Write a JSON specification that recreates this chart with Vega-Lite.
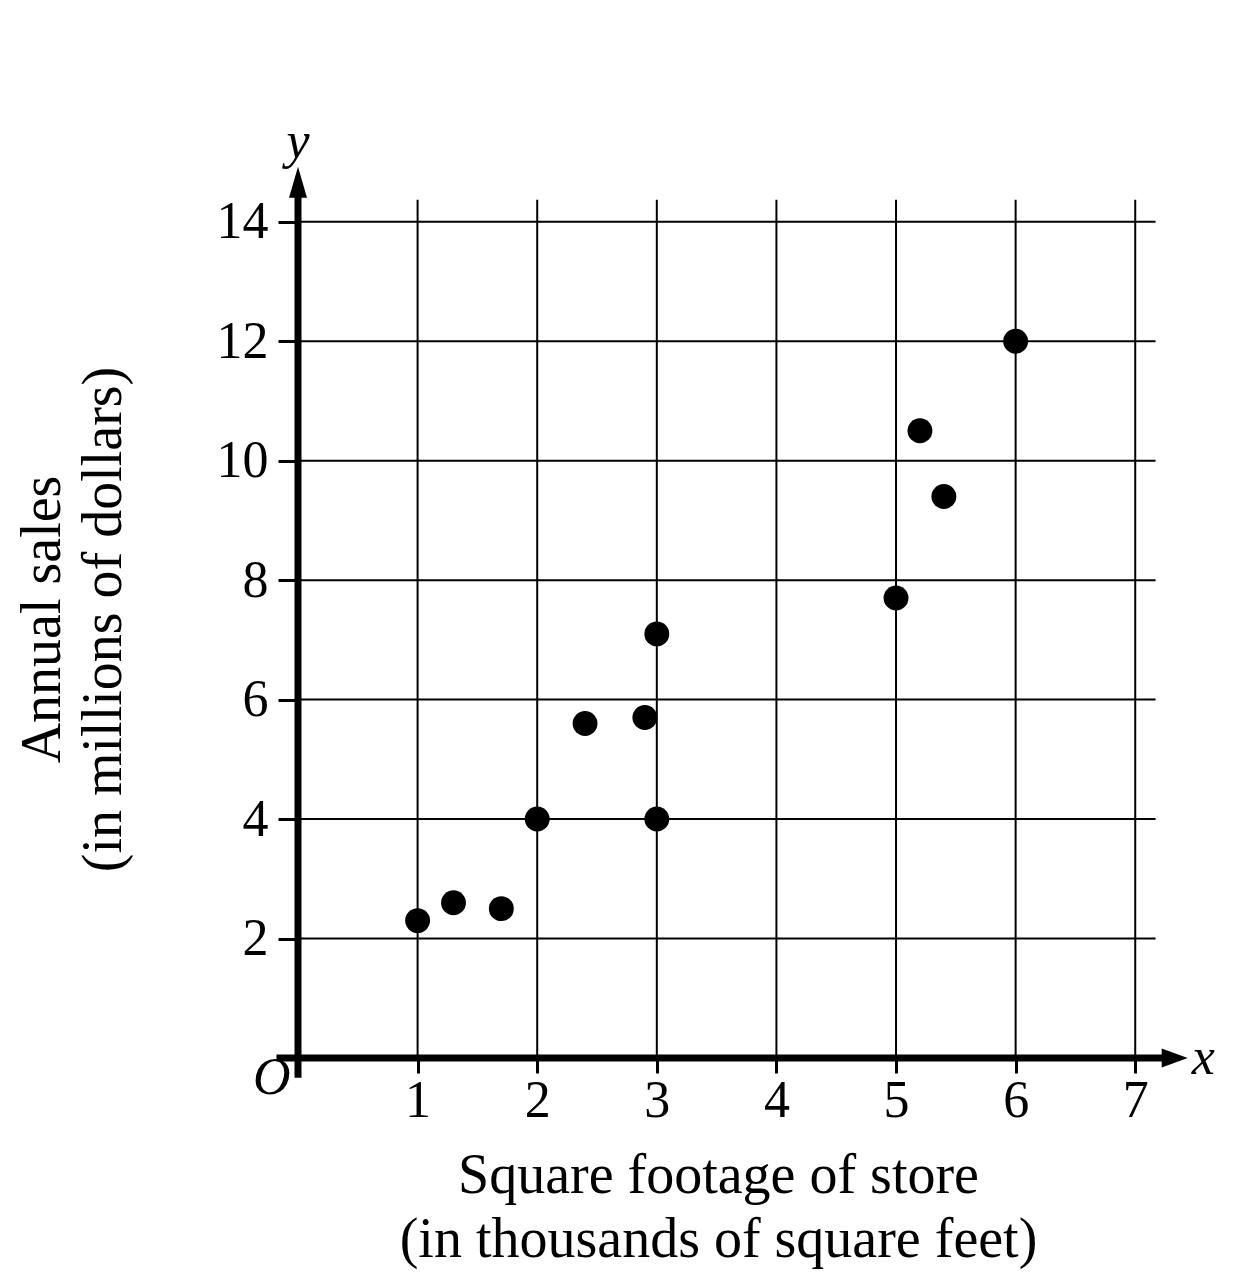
{
  "$schema": "https://vega.github.io/schema/vega-lite/v6.json",
  "width": 909,
  "height": 896,
  "autosize": {"type": "none"},
  "padding": {"left": 298, "top": 162, "right": 45, "bottom": 228},
  "background": "white",
  "datasets": {
    "stores": [
      {"x": 1.0, "y": 2.3},
      {"x": 1.3, "y": 2.6},
      {"x": 1.7, "y": 2.5},
      {"x": 2.0, "y": 4.0},
      {"x": 2.4, "y": 5.6},
      {"x": 2.9, "y": 5.7},
      {"x": 3.0, "y": 7.1},
      {"x": 3.0, "y": 4.0},
      {"x": 5.0, "y": 7.7},
      {"x": 5.2, "y": 10.5},
      {"x": 5.4, "y": 9.4},
      {"x": 6.0, "y": 12.0}
    ],
    "vgrid": [
      {"x": 1, "y": 0, "y2": 14.37},
      {"x": 2, "y": 0, "y2": 14.37},
      {"x": 3, "y": 0, "y2": 14.37},
      {"x": 4, "y": 0, "y2": 14.37},
      {"x": 5, "y": 0, "y2": 14.37},
      {"x": 6, "y": 0, "y2": 14.37},
      {"x": 7, "y": 0, "y2": 14.37}
    ],
    "hgrid": [
      {"y": 2, "x": 0, "x2": 7.17},
      {"y": 4, "x": 0, "x2": 7.17},
      {"y": 6, "x": 0, "x2": 7.17},
      {"y": 8, "x": 0, "x2": 7.17},
      {"y": 10, "x": 0, "x2": 7.17},
      {"y": 12, "x": 0, "x2": 7.17},
      {"y": 14, "x": 0, "x2": 7.17}
    ],
    "axislines": [
      {"x": -0.18, "x2": 7.25, "y": 0, "y2": 0},
      {"x": 0, "x2": 0, "y": -0.33, "y2": 14.5}
    ],
    "arrows": [
      {"x": 0, "y": 14.66, "dir": "up"},
      {"x": 7.33, "y": 0, "dir": "right"}
    ],
    "letters": [
      {"x": 0, "y": 15.33, "t": "y"},
      {"x": 7.57, "y": 0, "t": "x"},
      {"x": -0.22, "y": -0.33, "t": "O"}
    ]
  },
  "encoding": {
    "x": {
      "field": "x",
      "type": "quantitative",
      "scale": {"domain": [0, 7.6], "nice": false, "zero": false},
      "axis": {
        "values": [1, 2, 3, 4, 5, 6, 7],
        "domain": false,
        "grid": false,
        "tickSize": 15,
        "tickWidth": 3,
        "tickColor": "black",
        "labelFont": "Liberation Serif",
        "labelFontSize": 52,
        "labelColor": "black",
        "labelPadding": 2,
        "title": ["Square footage of store", "(in thousands of square feet)"],
        "titleFont": "Liberation Serif",
        "titleFontSize": 56,
        "titleFontWeight": "normal",
        "titleColor": "black",
        "titleX": 420,
        "titleY": 90,
        "titleAlign": "center",
        "titleBaseline": "top",
        "titleLineHeight": 64
      }
    },
    "y": {
      "field": "y",
      "type": "quantitative",
      "scale": {"domain": [0, 15], "nice": false, "zero": false},
      "axis": {
        "values": [2, 4, 6, 8, 10, 12, 14],
        "domain": false,
        "grid": false,
        "tickSize": 20,
        "tickWidth": 3,
        "tickColor": "black",
        "labelFont": "Liberation Serif",
        "labelFontSize": 52,
        "labelColor": "black",
        "labelPadding": 10,
        "title": ["Annual sales", "(in millions of dollars)"],
        "titleFont": "Liberation Serif",
        "titleFontSize": 56,
        "titleFontWeight": "normal",
        "titleColor": "black",
        "titleAngle": 270,
        "titleX": -283,
        "titleY": 457,
        "titleAlign": "center",
        "titleBaseline": "top",
        "titleLineHeight": 61
      }
    }
  },
  "layer": [
    {
      "data": {"name": "vgrid"},
      "mark": {"type": "rule", "color": "black", "strokeWidth": 2},
      "encoding": {"y2": {"field": "y2"}}
    },
    {
      "data": {"name": "hgrid"},
      "mark": {"type": "rule", "color": "black", "strokeWidth": 2},
      "encoding": {"x2": {"field": "x2"}}
    },
    {
      "data": {"name": "axislines"},
      "mark": {"type": "rule", "color": "black", "strokeWidth": 7},
      "encoding": {"x2": {"field": "x2"}, "y2": {"field": "y2"}}
    },
    {
      "data": {"name": "arrows"},
      "transform": [{"filter": "datum.dir === 'up'"}],
      "mark": {"type": "point", "filled": true, "color": "black", "opacity": 1, "size": 961, "shape": "M0,-1L0.58,1L-0.58,1Z"}
    },
    {
      "data": {"name": "arrows"},
      "transform": [{"filter": "datum.dir === 'right'"}],
      "mark": {"type": "point", "filled": true, "color": "black", "opacity": 1, "size": 676, "shape": "M1,0L-1,-0.73L-1,0.73Z"}
    },
    {
      "data": {"name": "letters"},
      "mark": {"type": "text", "font": "Liberation Serif", "fontStyle": "italic", "fontSize": 52, "color": "black", "align": "center", "baseline": "middle"},
      "encoding": {"text": {"field": "t"}}
    },
    {
      "data": {"name": "stores"},
      "mark": {"type": "point", "filled": true, "color": "black", "opacity": 1, "size": 620, "shape": "circle"}
    }
  ],
  "config": {"view": {"stroke": null}}
}
